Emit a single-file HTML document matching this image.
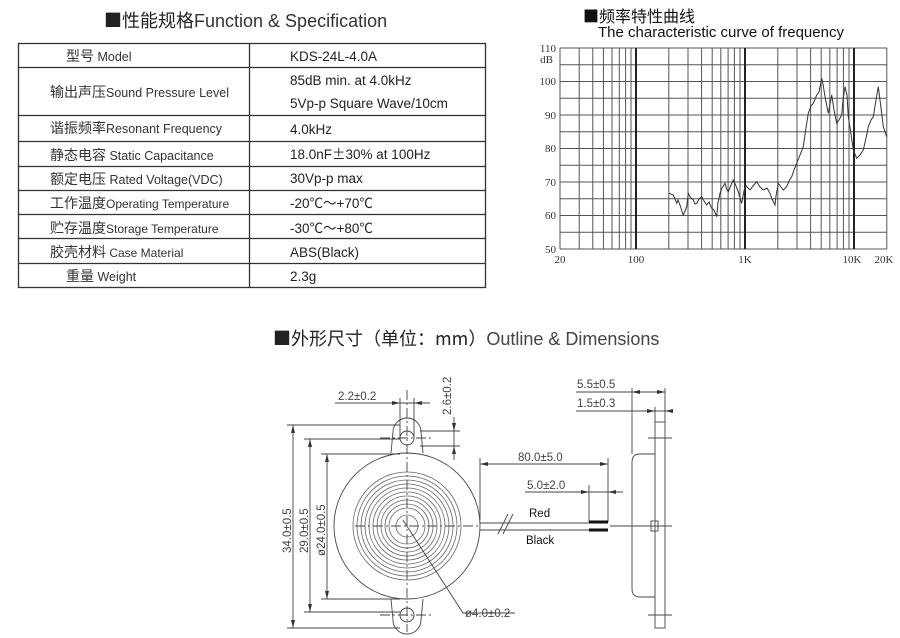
<!DOCTYPE html>
<html><head><meta charset="utf-8"><style>
body{margin:0;background:#fff;}
svg{display:block;font-family:"Liberation Sans","Noto Sans CJK SC",sans-serif;}
.cn{font-family:"Noto Sans CJK SC","WenQuanYi Zen Hei",sans-serif;}
.ser{font-family:"Liberation Serif",serif;}
</style></head><body>
<svg width="900" height="638" viewBox="0 0 900 638" xmlns="http://www.w3.org/2000/svg">
<text x="104" y="27" font-size="18" fill="#222"><tspan class="cn">■性能规格</tspan><tspan fill="#333">Function &amp; Specification</tspan></text>
<g stroke="#333" stroke-width="1.3" fill="none">
<rect x="18.5" y="43.5" width="467" height="244"/>
<line x1="249.5" y1="43" x2="249.5" y2="288"/>
<line x1="18" y1="67.5" x2="486" y2="67.5"/>
<line x1="18" y1="115.5" x2="486" y2="115.5"/>
<line x1="18" y1="141.5" x2="486" y2="141.5"/>
<line x1="18" y1="166.5" x2="486" y2="166.5"/>
<line x1="18" y1="190.5" x2="486" y2="190.5"/>
<line x1="18" y1="214.5" x2="486" y2="214.5"/>
<line x1="18" y1="238.5" x2="486" y2="238.5"/>
<line x1="18" y1="263.5" x2="486" y2="263.5"/>
</g>
<g font-size="12.5" fill="#333">
<text x="66" y="61"><tspan class="cn" font-size="14">型号</tspan> Model</text>
<text x="50" y="97"><tspan class="cn" font-size="14">输出声压</tspan>Sound Pressure Level</text>
<text x="50" y="133"><tspan class="cn" font-size="14">谐振频率</tspan>Resonant Frequency</text>
<text x="50" y="160"><tspan class="cn" font-size="14">静态电容</tspan> Static Capacitance</text>
<text x="50" y="184"><tspan class="cn" font-size="14">额定电压</tspan> Rated Voltage(VDC)</text>
<text x="50" y="208" font-size="12"><tspan class="cn" font-size="14">工作温度</tspan>Operating Temperature</text>
<text x="50" y="233" font-size="12"><tspan class="cn" font-size="14">贮存温度</tspan>Storage Temperature</text>
<text x="50" y="257" font-size="12"><tspan class="cn" font-size="14">胶壳材料</tspan> Case Material</text>
<text x="66" y="281"><tspan class="cn" font-size="14">重量</tspan>     Weight</text>
</g>
<g font-size="13.5" fill="#222">
<text x="290" y="61">KDS-24L-4.0A</text>
<text x="290" y="85">85dB min. at 4.0kHz</text>
<text x="290" y="108">5Vp-p Square Wave/10cm</text>
<text x="290" y="134">4.0kHz</text>
<text x="290" y="159">18.0nF<tspan class="cn">±</tspan>30% at 100Hz</text>
<text x="290" y="183">30Vp-p max</text>
<text x="290" y="208">-20<tspan class="cn">℃～</tspan>+70<tspan class="cn">℃</tspan></text>
<text x="290" y="233">-30<tspan class="cn">℃～</tspan>+80<tspan class="cn">℃</tspan></text>
<text x="290" y="257">ABS(Black)</text>
<text x="290" y="281">2.3g</text>
</g>

<text x="583" y="22" font-size="16" class="cn" fill="#111">■频率特性曲线</text>
<text x="598" y="37" font-size="15" fill="#111">The characteristic curve of frequency</text>
<g stroke="#555" stroke-width="1" fill="none">
<path d="M560 48H887M560 64.75H887M560 81.5H887M560 98.25H887M560 115H887M560 131.75H887M560 148.5H887M560 165.25H887M560 182H887M560 198.75H887M560 215.5H887M560 232.25H887M560 249H887"/>
<path d="M560 48V249M579.2 48V249M592.8 48V249M603.4 48V249M612 48V249M619.3 48V249M625.6 48V249M631 48V249M668.8 48V249M688 48V249M701.6 48V249M712.2 48V249M720.8 48V249M728.1 48V249M734.4 48V249M740 48V249M777.8 48V249M797 48V249M810.6 48V249M821.2 48V249M829.8 48V249M837.1 48V249M843.4 48V249M849 48V249M886.8 48V249"/>
</g>
<g stroke="#222" stroke-width="2"><path d="M636 48V249M745 48V249M854 48V249"/></g>
<g class="ser" font-size="11" fill="#333">
<text x="556" y="52" text-anchor="end">110</text>
<text x="553" y="63" text-anchor="end">dB</text>
<text x="556" y="85" text-anchor="end">100</text>
<text x="556" y="119" text-anchor="end">90</text>
<text x="556" y="152" text-anchor="end">80</text>
<text x="556" y="186" text-anchor="end">70</text>
<text x="556" y="219" text-anchor="end">60</text>
<text x="556" y="253" text-anchor="end">50</text>
<text x="560" y="263" text-anchor="middle">20</text>
<text x="636" y="263" text-anchor="middle">100</text>
<text x="745" y="263" text-anchor="middle">1K</text>
<text x="852" y="263" text-anchor="middle">10K</text>
<text x="884" y="263" text-anchor="middle">20K</text>
</g>
<polyline fill="none" stroke="#333" stroke-width="1" points="669,193.3 673.3,195 675,199 676.7,203.3 678,200 680,205 681.5,210 683.3,215 685,211 686.7,206.7 688.3,193.3 690,197 693.3,200 695,204 696.7,203.3 699,199 701.7,196.7 704,201 706.7,205 709,202 711.7,208.3 714,210 716.7,216.7 718,203 720,193.3 722,188 725,183.3 727,190 728.3,191.7 731,185 733.3,180 736,186 738.3,191.7 740,198 741.7,203.3 743,196 745.3,185 748,188 750,190 753,186 756.7,181.7 760,187 763.3,190 767,188 770,193.3 772,199 775,205 776,196 778.3,183.3 781,187 783.3,190 786.7,186.7 789,181 791.7,176.7 794,170 796.7,163.3 800,155 803.3,146.7 806,128 808.3,113.3 811,106 813.3,103.3 816.7,95 819,92 821.7,78.3 823,84 825,96.7 828.3,113.3 831.7,95 834,110 836.7,123.3 839,120 841.7,115 843,100 845,86.7 847,95 848.3,116.7 851,134 853.3,150 856.7,158.3 860,155 863.3,150 866,138 868.3,126.7 871,120 873.3,116.7 876,100 878.3,86.7 881,108 883.3,126.7 886.7,136.7"/>

<text x="273" y="345" font-size="18" fill="#222"><tspan class="cn">■外形尺寸（单位：mm）</tspan><tspan fill="#444">Outline &amp; Dimensions</tspan></text>

<g stroke="#444" stroke-width="0.9" fill="none">
<path d="M391 453 L393 432 A14 14 0 0 1 421 432 L423 453"/>
<path d="M391 599 L393 620 A14 14 0 0 0 421 620 L423 599"/>
<circle cx="407" cy="526" r="73"/>
<circle cx="407" cy="438" r="7"/>
<circle cx="407" cy="615" r="7"/>
<g stroke="#666" stroke-width="0.8">
<circle cx="407" cy="526" r="54"/><circle cx="407" cy="526" r="50"/><circle cx="407" cy="526" r="46"/><circle cx="407" cy="526" r="42"/><circle cx="407" cy="526" r="38"/><circle cx="407" cy="526" r="34"/><circle cx="407" cy="526" r="30"/><circle cx="407" cy="526" r="26"/><circle cx="407" cy="526" r="22"/><circle cx="407" cy="526" r="18"/><circle cx="407" cy="526" r="11"/>
</g>
<path d="M407 390V632M355 526H480M380 438H434M380 615H434" stroke-dasharray="10 3 2 3"/>
<path d="M403 520L463 613H515"/>
<path d="M293 425V628M287 425H400M287 628H400"/>
<path d="M310 439V612M304 439H400M304 612H400"/>
<path d="M327 454V599M321 454H400M321 599H400"/>
<path d="M335 403H430M400 398V438M414 398V438"/>
<path d="M454 417V460M420 431H460M420 446H460"/>
<path d="M480 464H608M480 458V520M608 458V522"/>
<path d="M525 492H623M589 485V522"/>
<path d="M480 523H589M480 530H589"/>
<path d="M498 534L508 514M503 534L513 514"/>
<path d="M655 454H640Q632 454 632 462V589Q632 597 640 597H655"/>
<rect x="655" y="422" width="10" height="206"/>
<path d="M610 526H672M648 438H672M648 615H672"/>
<rect x="651" y="521" width="7" height="5"/><rect x="651" y="526" width="7" height="5"/>
<path d="M576 392H665M576 411H672M632 388V454M655 407V422M665 388V422"/>
</g>
<g stroke="#111" stroke-width="3"><path d="M589 522H608M589 530H608"/></g>
<g fill="#333">
<path d="M293 425l-2 8h4zM293 628l-2-8h4zM310 439l-2 8h4zM310 612l-2-8h4zM327 454l-2 8h4zM327 599l-2-8h4z"/>
<path d="M400 403l-8-2v4zM414 403l8-2v4zM454 431l-2-8h4zM454 446l-2 8h4z"/>
<path d="M480 464l8-2v4zM608 464l-8-2v4zM589 492l-8-2v4zM608 492l8-2v4z"/>
<path d="M632 392l8-2v4zM665 392l-8-2v4zM655 411l-8-2v4zM665 411l8-2v4z"/>
</g>
<g font-size="11.5" fill="#444">
<text x="338" y="400">2.2±0.2</text>
<text transform="translate(451 415) rotate(-90)">2.6±0.2</text>
<text transform="translate(291 553) rotate(-90)">34.0±0.5</text>
<text transform="translate(308 553) rotate(-90)">29.0±0.5</text>
<text transform="translate(325 556) rotate(-90)">ø24.0±0.5</text>
<text x="518" y="461">80.0±5.0</text>
<text x="527" y="489">5.0±2.0</text>
<text x="465" y="617">ø4.0±0.2</text>
<text x="577" y="388">5.5±0.5</text>
<text x="577" y="407">1.5±0.3</text>
<text x="529" y="517" fill="#111">Red</text>
<text x="526" y="544" fill="#111">Black</text>
</g>
</svg>
</body></html>
